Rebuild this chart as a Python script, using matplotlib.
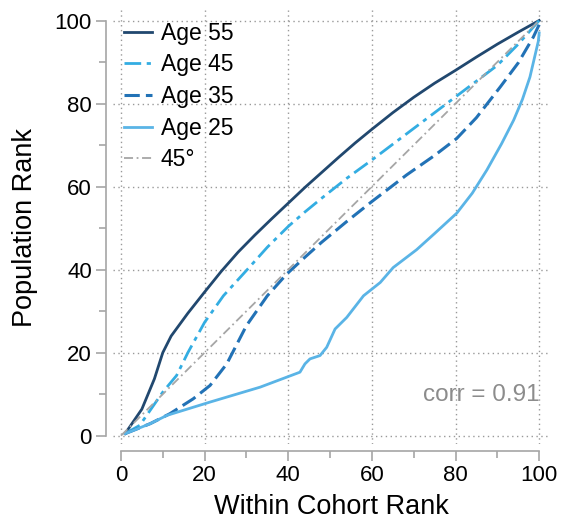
import numpy as np
import matplotlib
matplotlib.use('Agg')
import matplotlib.pyplot as plt

# values
x55 = [1, 5, 8, 10, 12, 16, 20, 24, 28, 32, 36, 40, 44, 48, 52, 56, 60, 65, 70, 75, 80, 85, 90, 95, 100]
y55 = [0.5, 6.4, 13.7, 20, 24, 29.5, 34.6, 39.6, 44.2, 48.3, 52.2, 56, 59.8, 63.4, 67, 70.5, 73.8,
       77.8, 81.5, 84.9, 88, 91.2, 94.3, 97.2, 100]

x45 = [1, 4.5, 10, 13.3, 16, 20, 24.5, 31, 35, 40, 44, 48, 54, 60, 65, 70, 75, 80, 85, 90, 95, 100]
y45 = [0.5, 2.5, 10.5, 14.5, 20, 27.3, 33.7, 40.9, 45.4, 50.4, 53.9, 57.2, 62, 66.4, 70.2,
       74, 77.8, 81.6, 85.4, 89.2, 94.3, 100]

x35 = [1, 7, 11.7, 17.3, 21.3, 25.3, 30, 35, 39.6, 44, 48, 54, 60, 68.3, 75, 80.3, 85, 90.7, 95, 98.6, 100]
y35 = [0.5, 2.9, 5.3, 8.9, 12.1, 17.3, 26.5, 33.7, 38.9, 43, 46.6, 51.6, 56.4, 62.8, 67.5, 71.6,
       76.6, 84, 89.8, 96, 99]

x25 = [1, 7, 11, 21.3, 33.3, 42.8, 44, 45.2, 47.6, 49.2, 50.2, 51.2, 54, 58, 62, 65.1,
       70.7, 75, 80.3, 84, 87.5, 91, 93.9, 96, 97.8, 99.8, 100]
y25 = [0.5, 2.9, 4.9, 8.1, 11.7, 15.3, 17.3, 18.5, 19.3, 21.3, 23.5, 25.7, 28.5, 33.7, 36.9, 40.5,
       44.8, 48.7, 53.6, 58.4, 64, 70.3, 76, 81, 86.4, 95, 97]

corr_text = 'corr = 0.91'

plt.rcParams['font.family'] = ['Liberation Sans', 'DejaVu Sans']

fig = plt.figure(figsize=(5.61, 5.19), dpi=100)
ax = fig.add_axes([0.2007, 0.1445, 0.779, 0.836])

ax.plot(x55, y55, color='#21486f', lw=2.0, label='Age 55')
ax.plot(x45, y45, color='#33ade2', lw=2.0, dashes=(6, 2, 1.5, 2), label='Age 45')
ax.plot(x35, y35, color='#2272b6', lw=2.2, dashes=(5, 2), label='Age 35')
ax.plot(x25, y25, color='#5ab4e6', lw=2.0, label='Age 25')
ax.plot([0, 100], [0, 100], color='#a6a6a6', lw=1.3, dashes=(5, 2, 1, 2), label='45°')

ax.text(100, 9.8, corr_text, color='#8c8c8c', fontsize=17.5, ha='right', va='center')

ax.set_xlim(-2, 102.5)
ax.set_ylim(-2, 102.5)
ax.set_xticks(np.arange(0, 101, 20))
ax.set_yticks(np.arange(0, 101, 20))
ax.set_xticks(np.arange(10, 100, 20), minor=True)
ax.set_yticks(np.arange(10, 100, 20), minor=True)
ax.grid(True, which='major', color='#999999', linestyle=(0, (1, 2.5)), lw=1.0)

for side in ['top', 'right']:
    ax.spines[side].set_visible(False)
for side in ['left', 'bottom']:
    ax.spines[side].set_position(('outward', 5))
    ax.spines[side].set_bounds(0, 100)
    ax.spines[side].set_color('#a6a6a6')
    ax.spines[side].set_linewidth(1.2)

ax.tick_params(which='major', length=7, width=1.2, color='#a6a6a6', labelsize=16, pad=3)
ax.tick_params(which='minor', length=5, width=1.2, color='#a6a6a6')

ax.set_xlabel('Within Cohort Rank', fontsize=19.5, labelpad=6)
ax.set_ylabel('Population Rank', fontsize=19.5, labelpad=12)

ax.legend(loc='upper left', frameon=False, fontsize=16.5, borderaxespad=0.1,
          handlelength=1.2, handletextpad=0.4, labelspacing=0.38)

fig.savefig('out.png', dpi=100)
